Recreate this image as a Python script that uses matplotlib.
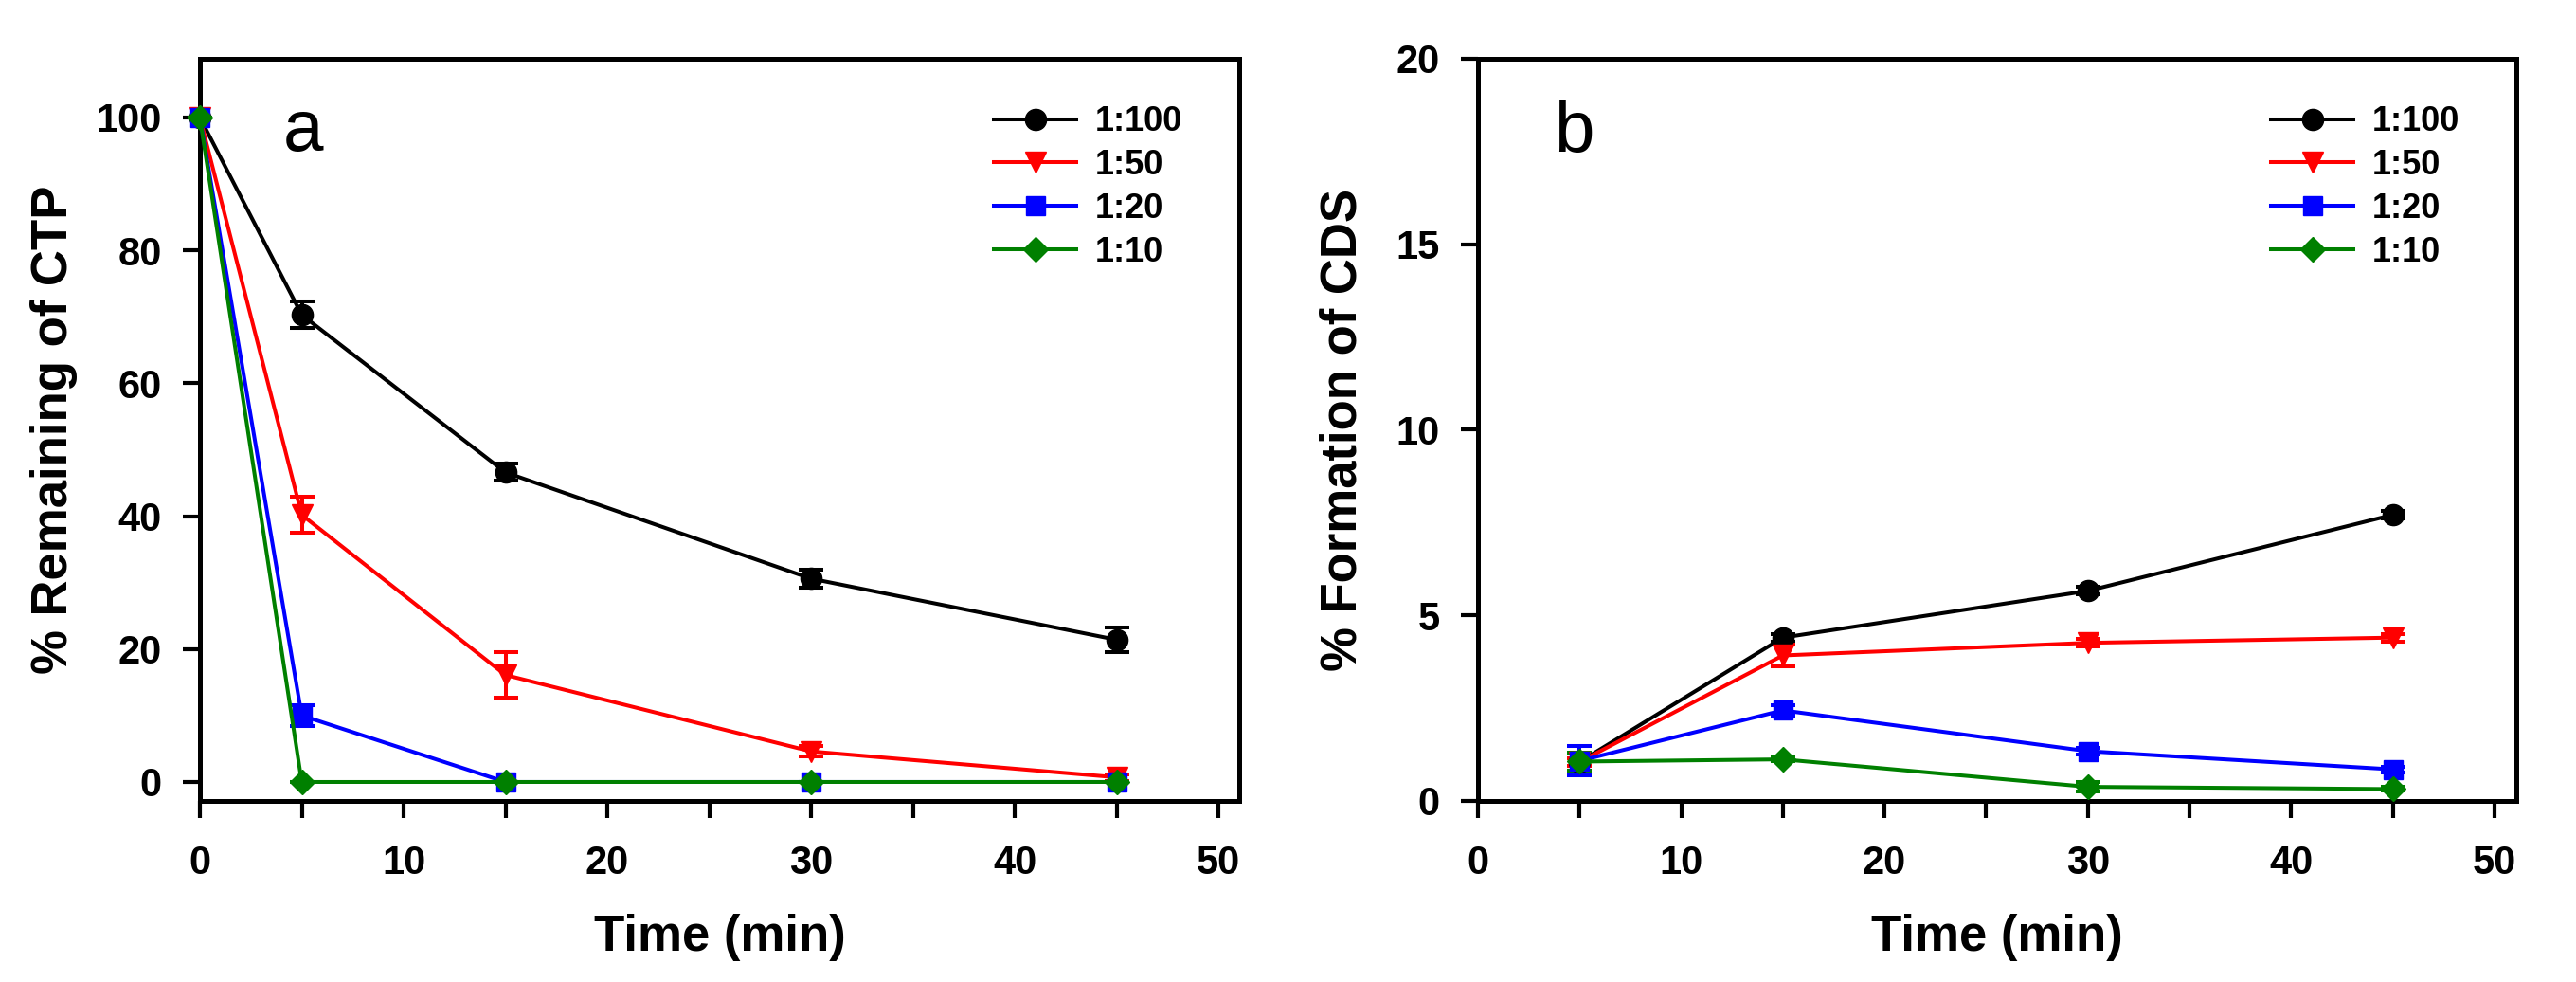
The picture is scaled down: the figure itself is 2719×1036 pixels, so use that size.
import numpy as np
import matplotlib
matplotlib.use('Agg')
import matplotlib.pyplot as plt
from matplotlib.ticker import MultipleLocator

# data
ratios = ['1:100', '1:50', '1:20', '1:10']
colors = ['black', 'red', 'blue', 'green']
markers = ['o', 'v', 's', 'D']
msizes = [16, 16, 14, 13]

# (a) % remaining of CTP
t_a = [0, 5, 15, 30, 45]
ctp = {
    '1:100': [100, 70.3, 46.6, 30.6, 21.4],
    '1:50': [100, 40.2, 16.1, 4.6, 0.7],
    '1:20': [100, 10.0, 0, 0, 0],
    '1:10': [100, 0, 0, 0, 0],
}
ctp_err = {
    '1:100': [0, 2.0, 1.3, 1.4, 1.9],
    '1:50': [0, 2.7, 3.4, 0.8, 0.5],
    '1:20': [0, 1.6, 0, 0, 0],
    '1:10': [0, 0, 0, 0, 0],
}

# (b) % formation of CDS
t_b = [5, 15, 30, 45]
cds = {
    '1:100': [1.05, 4.40, 5.66, 7.71],
    '1:50': [1.05, 3.92, 4.26, 4.40],
    '1:20': [1.08, 2.44, 1.34, 0.85],
    '1:10': [1.06, 1.12, 0.38, 0.32],
}
cds_err = {
    '1:100': [0.1, 0.1, 0.1, 0.1],
    '1:50': [0.1, 0.3, 0.1, 0.1],
    '1:20': [0.4, 0.15, 0.1, 0.08],
    '1:10': [0.25, 0.05, 0.12, 0.05],
}

plt.rcParams['font.family'] = ['Liberation Sans', 'DejaVu Sans']
lw = 2.9

fig = plt.figure(figsize=(27.19, 10.36), dpi=100)
ax_a = fig.add_axes([0.0776, 0.1844, 0.4035, 0.7558])
ax_b = fig.add_axes([0.5737, 0.1844, 0.4031, 0.7558])

def draw(ax, t, vals, errs):
    for r, c, m, ms in zip(ratios, colors, markers, msizes):
        ax.errorbar(t, vals[r], yerr=errs[r], fmt='none', ecolor=c, elinewidth=lw,
                    capsize=9.5, capthick=lw, clip_on=False, zorder=3)
        ax.plot(t, vals[r], color=c, marker=m, ms=ms, lw=lw, label=r,
                clip_on=False, zorder=4)

def style(ax):
    for s in ax.spines.values():
        s.set_linewidth(3.6)
    ax.xaxis.set_major_locator(MultipleLocator(10))
    ax.xaxis.set_minor_locator(MultipleLocator(5))
    ax.tick_params(which='both', direction='out', length=13, width=3,
                   labelsize=30, top=False, right=False)
    ax.tick_params(axis='x', which='both', pad=20)
    ax.tick_params(axis='y', pad=16)
    for lab in ax.get_xticklabels() + ax.get_yticklabels():
        lab.set_fontweight('bold')
    ax.set_xlabel('Time (min)', fontsize=38, fontweight='bold', labelpad=24)
    leg = ax.legend(loc='upper left', bbox_to_anchor=(0.764, 0.937), frameon=False,
                    borderaxespad=0, borderpad=0, handlelength=2.4,
                    handletextpad=0.55, labelspacing=0.3,
                    prop={'size': 26, 'weight': 'bold'})

draw(ax_a, t_a, ctp, ctp_err)
ax_a.set_xlim(0, 51.02)
ax_a.set_ylim(-2.85, 108.85)
ax_a.yaxis.set_major_locator(MultipleLocator(20))
style(ax_a)
ax_a.set_ylabel('% Remaining of CTP', fontsize=38, fontweight='bold', labelpad=14)
ax_a.text(5.07, 95, 'a', fontsize=55, ha='center', va='baseline')

draw(ax_b, t_b, cds, cds_err)
ax_b.set_xlim(0, 51.07)
ax_b.set_ylim(0, 20)
ax_b.yaxis.set_major_locator(MultipleLocator(5))
style(ax_b)
ax_b.set_ylabel('% Formation of CDS', fontsize=38, fontweight='bold', labelpad=22)
ax_b.text(4.75, 17.5, 'b', fontsize=55, ha='center', va='baseline')

fig.savefig('out.png', dpi=100)
